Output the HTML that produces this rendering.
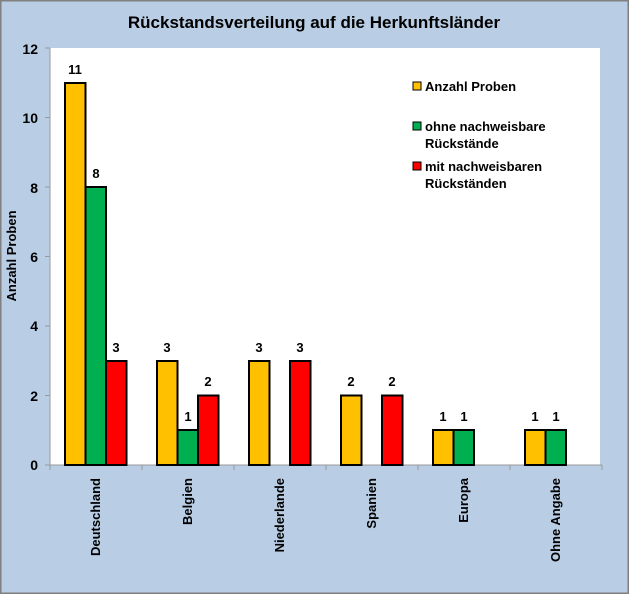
<!DOCTYPE html><html><head><meta charset="utf-8"><style>body{margin:0}svg{display:block}text{font-family:"Liberation Sans",sans-serif;font-weight:bold;fill:#000}</style></head><body>
<svg width="629" height="594" xmlns="http://www.w3.org/2000/svg">
<rect x="0.5" y="0.5" width="628" height="593" fill="#B9CDE5" stroke="#808080"/>
<rect x="1" y="1" width="627" height="592" fill="none" stroke="#808080" stroke-width="1"/>
<text x="314" y="28" font-size="17" text-anchor="middle">Rückstandsverteilung auf die Herkunftsländer</text>
<rect x="50" y="48" width="550" height="417" fill="#fff"/>
<g stroke="#999" stroke-width="1">
<line x1="50" y1="48" x2="50" y2="465"/><line x1="50" y1="465" x2="602" y2="465"/>
<line x1="45" y1="48" x2="50" y2="48"/><line x1="45" y1="117.5" x2="50" y2="117.5"/><line x1="45" y1="187" x2="50" y2="187"/><line x1="45" y1="256.5" x2="50" y2="256.5"/><line x1="45" y1="326" x2="50" y2="326"/><line x1="45" y1="395.5" x2="50" y2="395.5"/><line x1="45" y1="465" x2="50" y2="465"/>
<line x1="50" y1="465" x2="50" y2="470"/><line x1="142" y1="465" x2="142" y2="470"/><line x1="234" y1="465" x2="234" y2="470"/><line x1="326" y1="465" x2="326" y2="470"/><line x1="418" y1="465" x2="418" y2="470"/><line x1="510" y1="465" x2="510" y2="470"/><line x1="602" y1="465" x2="602" y2="470"/>
</g>
<g font-size="14" text-anchor="end">
<text x="38" y="54">12</text><text x="38" y="123">10</text><text x="38" y="193">8</text><text x="38" y="262">6</text><text x="38" y="331">4</text><text x="38" y="401">2</text><text x="38" y="470">0</text>
</g>
<text transform="translate(16,256) rotate(-90)" font-size="13" text-anchor="middle">Anzahl Proben</text>
<g stroke="#000" stroke-width="2">
<rect x="65" y="83" width="20.5" height="382" fill="#FFC000"/>
<rect x="85.5" y="187" width="20.5" height="278" fill="#00B050"/>
<rect x="106" y="361" width="20.5" height="104" fill="#FF0000"/>
<rect x="157" y="361" width="20.5" height="104" fill="#FFC000"/>
<rect x="177.5" y="430" width="20.5" height="35" fill="#00B050"/>
<rect x="198" y="395.5" width="20.5" height="69.5" fill="#FF0000"/>
<rect x="249" y="361" width="20.5" height="104" fill="#FFC000"/>
<rect x="290" y="361" width="20.5" height="104" fill="#FF0000"/>
<rect x="341" y="395.5" width="20.5" height="69.5" fill="#FFC000"/>
<rect x="382" y="395.5" width="20.5" height="69.5" fill="#FF0000"/>
<rect x="433" y="430" width="20.5" height="35" fill="#FFC000"/>
<rect x="453.5" y="430" width="20.5" height="35" fill="#00B050"/>
<rect x="525" y="430" width="20.5" height="35" fill="#FFC000"/>
<rect x="545.5" y="430" width="20.5" height="35" fill="#00B050"/>
</g>
<g font-size="13" text-anchor="middle">
<text x="75" y="74">11</text><text x="96" y="178">8</text><text x="116" y="352">3</text>
<text x="167" y="352">3</text><text x="188" y="421">1</text><text x="208" y="386">2</text>
<text x="259" y="352">3</text><text x="300" y="352">3</text>
<text x="351" y="386">2</text><text x="392" y="386">2</text>
<text x="443" y="421">1</text><text x="464" y="421">1</text>
<text x="535" y="421">1</text><text x="556" y="421">1</text>
</g>
<g font-size="13" text-anchor="end">
<text transform="translate(100,478) rotate(-90)">Deutschland</text>
<text transform="translate(192,478) rotate(-90)">Belgien</text>
<text transform="translate(284,478) rotate(-90)">Niederlande</text>
<text transform="translate(376,478) rotate(-90)">Spanien</text>
<text transform="translate(468,478) rotate(-90)">Europa</text>
<text transform="translate(560,478) rotate(-90)">Ohne Angabe</text>
</g>
<g stroke="#000" stroke-width="1">
<rect x="413" y="82" width="8" height="8" fill="#FFC000"/>
<rect x="413" y="122" width="8" height="8" fill="#00B050"/>
<rect x="413" y="162" width="8" height="8" fill="#FF0000"/>
</g>
<g font-size="13">
<text x="425" y="91">Anzahl Proben</text>
<text x="425" y="131">ohne nachweisbare</text><text x="425" y="148">Rückstände</text>
<text x="425" y="171">mit nachweisbaren</text><text x="425" y="188">Rückständen</text>
</g>
</svg></body></html>
